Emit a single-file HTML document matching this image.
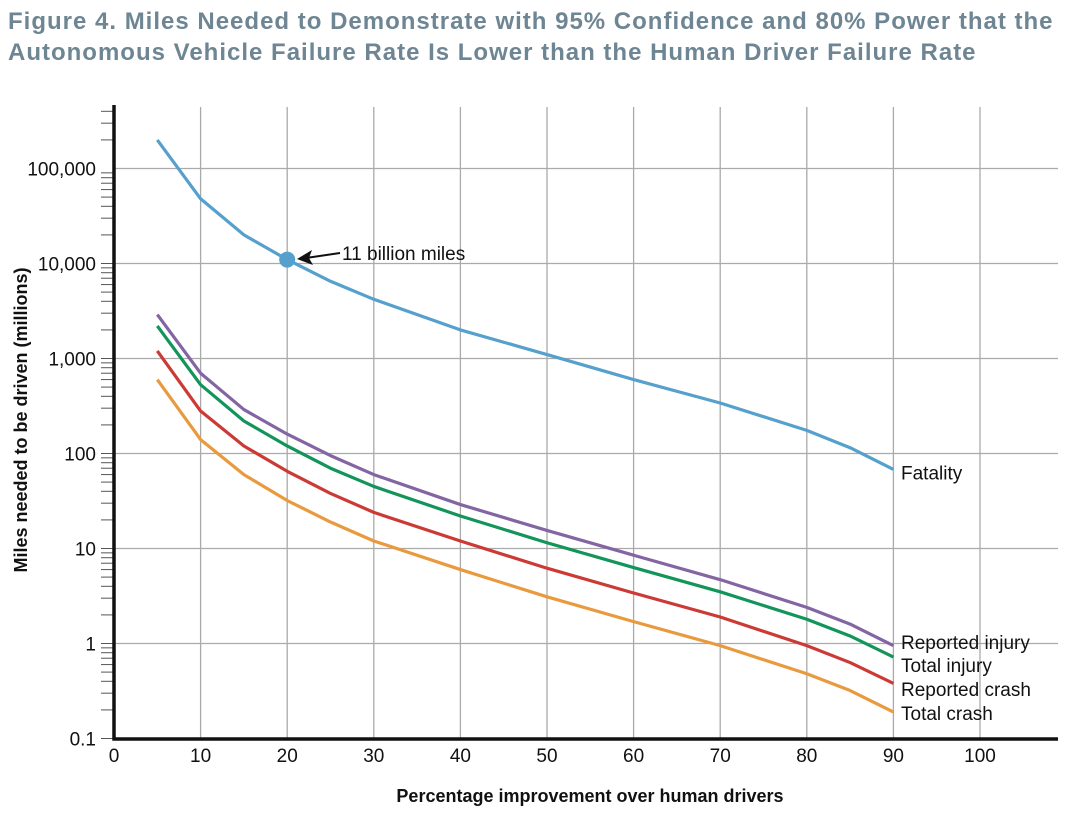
<!DOCTYPE html>
<html><head><meta charset="utf-8"><style>
body{margin:0;background:#fff;width:1080px;height:814px;overflow:hidden;font-family:"Liberation Sans",sans-serif}
.t{position:absolute;left:8px;top:6px;color:#6e8693;font-weight:bold;font-size:24px;line-height:31px;letter-spacing:1px;white-space:nowrap}
</style></head><body>
<div class="t">Figure 4. Miles Needed to Demonstrate with 95% Confidence and 80% Power that the<br>Autonomous Vehicle Failure Rate Is Lower than the Human Driver Failure Rate</div>
<svg id="c" width="1080" height="814" style="position:absolute;left:0;top:0"></svg>
<script>
const xs=[5,10,15,20,25,30,40,50,60,70,80,85,90];
const fatality=[200000,48000,20000,11000,6500,4200,2000,1100,600,340,175,115,68];
const reportedInjury=[2900,700,290,160,95,60,29,15.5,8.5,4.7,2.4,1.6,0.95];
const totalInjury=[2200,530,220,120,70,45,22,11.5,6.3,3.5,1.8,1.2,0.72];
const reportedCrash=[1200,280,120,65,38,24,12,6.2,3.4,1.9,0.95,0.63,0.38];
const totalCrash=[600,140,60,32,19,12,6,3.1,1.7,0.95,0.48,0.32,0.19];
const xTicks=[0,10,20,30,40,50,60,70,80,90,100];
const yTicks=[0.1,1,10,100,1000,10000,100000];
const yTickLabels=["0.1","1","10","100","1,000","10,000","100,000"];
const seriesNames=["Fatality","Reported injury","Total injury","Reported crash","Total crash"];
const colors=["#55a0cc","#8465a3","#12945a","#cc3a36","#e99a3e"];
const labelY=[null,643,666,690,714];
const NS="http://www.w3.org/2000/svg",svg=document.getElementById('c');
const X=v=>114+8.66*v, Y=v=>738.5-95*(Math.log10(v)+1);
function mk(t,a,p){const e=document.createElementNS(NS,t);for(const k in a)e.setAttribute(k,a[k]);(p||svg).appendChild(e);return e;}
xTicks.forEach(v=>{if(v>0){const l=mk('line',{x1:X(v),x2:X(v),y1:107,y2:738,stroke:'#aaa','stroke-width':1.3});

}
const t=mk('text',{x:X(v),y:762,'text-anchor':'middle','font-size':19,fill:'#111'});t.textContent=v;

});
yTicks.forEach((v,i)=>{if(i>0){const l=mk('line',{x1:114,x2:1058,y1:Y(v),y2:Y(v),stroke:'#aaa','stroke-width':1.3});

}
const t=mk('text',{x:96,y:Y(v)+7,'text-anchor':'end','font-size':19,fill:'#111'});t.textContent=yTickLabels[i];


if(i<yTicks.length-1)for(let m=1;m<=9;m++){const yy=Y(v*m);mk('line',{x1:101,x2:114,y1:yy,y2:yy,stroke:'#555','stroke-width':1});}});
for(let m=2;m<=4;m++)mk('line',{x1:101,x2:114,y1:Y(100000*m),y2:Y(100000*m),stroke:'#555','stroke-width':1});
const ax=mk('path',{d:'M114,105 V739 H1058',fill:'none',stroke:'#111','stroke-width':3.5});


[fatality,reportedInjury,totalInjury,reportedCrash,totalCrash].forEach((s,i)=>{
const p=mk('polyline',{points:xs.map((x,j)=>X(x)+','+Y(s[j])).join(' '),fill:'none',stroke:colors[i],'stroke-width':3.2,'stroke-linejoin':'round'});


const ly=labelY[i]||Y(s[s.length-1])+4;
const t=mk('text',{x:901,y:ly+6,'font-size':19,fill:'#111'});t.textContent=seriesNames[i];

});
const d=mk('circle',{cx:X(20),cy:Y(11000),r:8,fill:colors[0]});


mk('line',{x1:340,x2:306,y1:253,y2:258,stroke:'#111','stroke-width':2});
mk('path',{d:'M297,259 L312,250 L309,258 L313,265 Z',fill:'#111'});
const a=mk('text',{x:342,y:260,'font-size':19,fill:'#111'});a.textContent='11 billion miles';


const xt=mk('text',{x:590,y:802,'text-anchor':'middle','font-size':18,'font-weight':'bold',fill:'#111'});xt.textContent='Percentage improvement over human drivers';


const yt=mk('text',{x:0,y:0,'text-anchor':'middle','font-size':18,'font-weight':'bold',fill:'#111',transform:'translate(27,420) rotate(-90)'});yt.textContent='Miles needed to be driven (millions)';


</script></body></html>
